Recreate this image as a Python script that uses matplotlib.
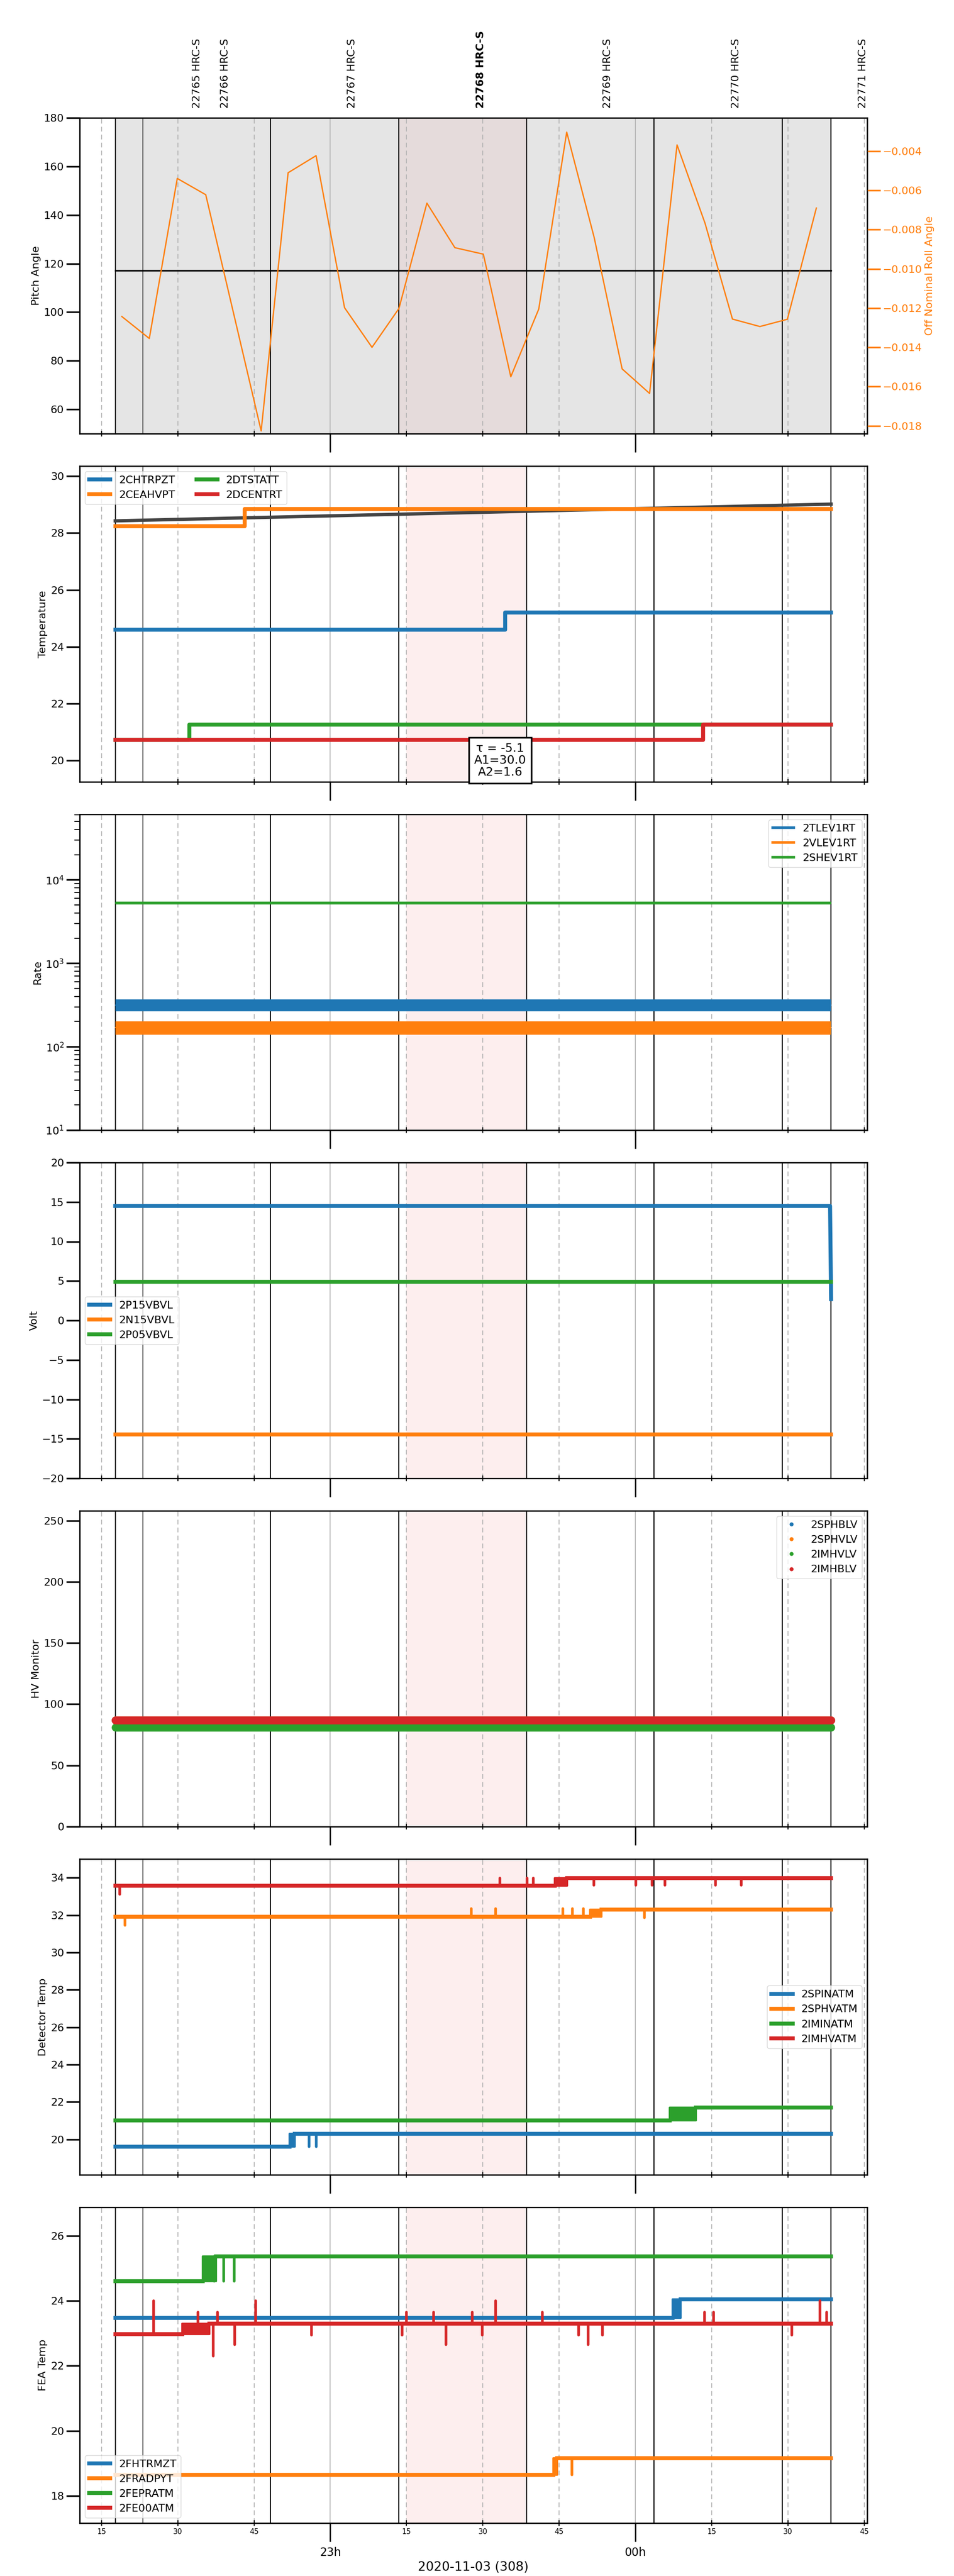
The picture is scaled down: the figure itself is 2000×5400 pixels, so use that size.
import numpy as np
import matplotlib
matplotlib.use("Agg")
import matplotlib.pyplot as plt
import matplotlib.dates as mdates
from datetime import datetime, timedelta

plt.rcParams['font.family'] = ['DejaVu Sans']
plt.rcParams['font.size'] = 16

BASE = datetime(2020, 11, 3, 22, 0)
def T(m):
    return mdates.date2num(np.array([BASE + timedelta(minutes=float(x)) for x in np.atleast_1d(m)]))

# ---------------- data (minutes after 22:00) ----------------
x_range = (10.7, 165.6)
t_start, t_end = 17.7, 158.5
obs_lines = [17.7, 48.2, 73.5, 98.6, 123.7, 148.9, 158.5]
obs_thin = [23.1]
grey_spans = [(17.7, 73.5), (98.6, 158.5)]
pink_span_top = (73.5, 98.6)
pink_span = (75.0, 98.6)
obs_label_t = [33.8, 39.3, 64.3, 89.6, 114.6, 139.8, 164.8]
obs_labels = ["22765 HRC-S", "22766 HRC-S", "22767 HRC-S", "22768 HRC-S",
              "22769 HRC-S", "22770 HRC-S", "22771 HRC-S"]
obs_bold = "22768 HRC-S"

pitch_t = [17.7, 158.5]
pitch_v = [117.2, 117.2]
roll_t = [19.0, 24.4, 29.9, 35.5, 46.4, 51.7, 57.2, 62.8, 68.2, 73.5, 79.0, 84.5, 90.1,
          95.5, 101.0, 106.5, 111.9, 117.4, 122.8, 128.2, 133.7, 139.1, 144.5, 149.9, 155.6]
roll_v = [-0.01243, -0.01355, -0.00539, -0.00622, -0.01826, -0.00510, -0.00423, -0.01198,
          -0.01400, -0.01202, -0.00665, -0.00892, -0.00925, -0.01550, -0.01205, -0.00303,
          -0.00840, -0.01510, -0.01635, -0.00368, -0.00767, -0.01256, -0.01294, -0.01257,
          -0.00690]

temp_names = ["2CHTRPZT", "2CEAHVPT", "2DTSTATT", "2DCENTRT"]
temp_v0 = [24.6, 28.25, 20.72, 20.72]
temp_step = [94.4, 43.2, 32.3, 133.3]
temp_v1 = [25.2, 28.85, 21.25, 21.25]
trend_t = [17.7, 158.5]
trend_v = [28.43, 29.02]
fit_text = "τ = -5.1\nA1=30.0\nA2=1.6"

rate_names = ["2TLEV1RT", "2VLEV1RT", "2SHEV1RT"]
rate_mid = [313, 169, 5250]
rate_lo = [265, 140, 5050]
rate_hi = [370, 200, 5450]

volt_names = ["2P15VBVL", "2N15VBVL", "2P05VBVL"]
volt_v = [14.5, -14.45, 4.9]
volt_end_drop = 2.7

hv_names = ["2SPHBLV", "2SPHVLV", "2IMHVLV", "2IMHBLV"]
hv_v = [87, 87, 81, 87]

det_names = ["2SPINATM", "2SPHVATM", "2IMINATM", "2IMHVATM"]
det_v0 = [19.6, 31.9, 21.0, 33.57]
det_v1 = [20.3, 32.3, 21.7, 33.97]
det_tr0 = [52.0, 111.1, 126.8, 104.1]
det_tr1 = [53.0, 113.3, 131.9, 106.6]
det_spk_t = [[55.8, 57.2], [19.6, 87.7, 92.5, 105.7, 107.6, 109.8, 121.8],
             [], [18.6, 93.4, 98.7, 99.9, 104.2, 111.8, 120.1, 123.3, 125.8, 135.8, 140.8]]
det_spk_v = [[19.6, 19.6], [31.45, 32.35, 32.35, 32.35, 32.35, 32.35, 31.85],
             [], [33.1, 33.97, 33.97, 33.97, 33.97, 33.6, 33.6, 33.6, 33.6, 33.6, 33.6]]

fea_names = ["2FHTRMZT", "2FRADPYT", "2FEPRATM", "2FE00ATM"]
fea_v0 = [23.47, 18.65, 24.6, 22.97]
fea_v1 = [24.05, 19.15, 25.37, 23.3]
fea_tr0 = [127.3, 103.9, 34.9, 30.9]
fea_tr1 = [128.9, 104.6, 37.5, 36.2]
fea_spk_t = [[], [107.5], [37.2, 39.0, 41.1],
             [25.2, 45.3, 92.5, 156.3, 34.0, 37.8, 75.0, 80.3, 87.9, 101.7, 133.6, 135.4, 157.6,
              37.0, 41.2, 56.3, 74.1, 82.8, 89.9, 108.8, 110.7, 113.5, 150.8]]
fea_spk_v = [[], [18.65], [24.6, 24.6, 24.6],
             [24.0, 24.0, 24.0, 24.0, 23.65, 23.65, 23.65, 23.65, 23.65, 23.65, 23.65, 23.65, 23.65,
              22.3, 22.65, 22.95, 22.95, 22.65, 22.95, 22.95, 22.65, 22.95, 22.95]]

C = ['#1f77b4', '#ff7f0e', '#2ca02c', '#d62728']
LW = 6

# ---------------- layout ----------------
fig = plt.figure(figsize=(20, 54), dpi=100)
W, H = 2000, 5400
tops = [247 + 730 * i for i in range(7)]
ph = 662
axes = []
for tp in tops:
    axes.append(fig.add_axes([167 / W, 1 - (tp + ph) / H, 1651 / W, ph / H]))

def decorate(ax, top=False, last=False):
    ax.set_xlim(T(x_range[0])[0], T(x_range[1])[0])
    if top:
        for a, b in grey_spans:
            ax.axvspan(T(a)[0], T(b)[0], color='#e5e5e5', zorder=0)
        ax.axvspan(T(pink_span_top[0])[0], T(pink_span_top[1])[0], color='#e5dbdb', zorder=0.5)
    else:
        ax.axvspan(T(pink_span[0])[0], T(pink_span[1])[0], color='#fdeeee', zorder=0)
    for v in obs_lines:
        ax.axvline(T(v)[0], color='black', lw=1.6, zorder=1)
    for v in obs_thin:
        ax.axvline(T(v)[0], color='black', lw=1.0, zorder=1)
    ax.xaxis.set_major_locator(mdates.HourLocator())
    ax.xaxis.set_minor_locator(mdates.MinuteLocator(byminute=[15, 30, 45]))
    ax.grid(True, which='major', axis='x', color='#b0b0b0', lw=1.2, zorder=0.8)
    ax.grid(True, which='minor', axis='x', color='#b0b0b0', lw=1.2, ls=(0, (6, 4)), zorder=0.8)
    ax.tick_params(axis='x', which='major', length=28, width=2, direction='out')
    ax.tick_params(axis='x', which='minor', length=8, width=1.5, direction='inout')
    ax.tick_params(axis='y', which='major', length=20, width=2.5, direction='out', labelsize=16)
    ax.tick_params(axis='y', which='minor', length=8, width=1.5, direction='out')
    for s in ax.spines.values():
        s.set_linewidth(2)
    if last:
        ax.xaxis.set_major_formatter(mdates.DateFormatter('%Hh'))
        ax.xaxis.set_minor_formatter(mdates.DateFormatter('%M'))
        ax.tick_params(axis='x', which='major', labelsize=17, pad=8)
        ax.tick_params(axis='x', which='minor', labelsize=11, pad=4)
        ax.set_xlabel("2020-11-03 (308)", fontsize=19)
    else:
        ax.tick_params(axis='x', which='both', labelbottom=False)

# panel 1
ax = axes[0]
decorate(ax, top=True)
ax.plot(T(pitch_t), pitch_v, color='black', lw=2.5, zorder=3)
ax.set_ylim(50, 180)
ax.set_yticks(np.arange(60, 181, 20))
ax.set_ylabel("Pitch Angle", fontsize=16)
ax2 = ax.twinx()
ax2.plot(T(roll_t), roll_v, color='#ff7f0e', lw=2)
ax2.set_ylim(-0.0184, -0.0023)
ax2.set_yticks(np.arange(-0.018, -0.0039, 0.002))
ax2.tick_params(axis='y', colors='#ff7f0e', length=20, width=2.5, labelsize=16)
ax2.set_ylabel("Off Nominal Roll Angle", color='#ff7f0e', fontsize=16)
for tx, lab in zip(obs_label_t, obs_labels):
    ax.text(T(tx)[0], 1.03, lab, transform=ax.get_xaxis_transform(), rotation=90,
            ha='center', va='bottom', fontsize=16,
            fontweight='bold' if lab == obs_bold else 'normal')

# panel 2
ax = axes[1]
decorate(ax)
ax.plot(T(trend_t), trend_v, color='#444444', lw=5, zorder=2)
for i, n in enumerate(temp_names):
    tt = [t_start, temp_step[i], temp_step[i], t_end]
    vv = [temp_v0[i], temp_v0[i], temp_v1[i], temp_v1[i]]
    ax.plot(T(tt), vv, color=C[i], lw=LW, label=n, zorder=3 + (i == 3))
ax.set_ylim(19.24, 30.36)
ax.set_yticks(np.arange(20, 31, 2))
ax.set_ylabel("Temperature", fontsize=16)
ax.legend(loc='upper left', ncol=2, fontsize=16)
ax.text(T(93.4)[0], 20.62, fit_text, ha='center', va='top', fontsize=18, zorder=10,
        linespacing=1.05, clip_on=False,
        bbox=dict(facecolor='white', edgecolor='black', lw=2.5, pad=8))

# panel 3
ax = axes[2]
decorate(ax)
for i, n in enumerate(rate_names):
    ax.fill_between(T([t_start, t_end]), [rate_lo[i]] * 2, [rate_hi[i]] * 2, color=C[i], lw=0, zorder=2)
    ax.plot(T([t_start, t_end]), [rate_mid[i]] * 2, color=C[i], lw=1.5, label=n, zorder=3)
ax.set_yscale('log')
ax.set_ylim(10, 6.1e4)
ax.set_ylabel("Rate", fontsize=16)
leg = ax.legend(loc='upper right', fontsize=16)
for l in leg.get_lines():
    l.set_linewidth(4)

# panel 4
ax = axes[3]
decorate(ax)
for i, n in enumerate(volt_names):
    if i == 0:
        ax.plot(T([t_start, t_end - 0.2, t_end]), [volt_v[i], volt_v[i], volt_end_drop], color=C[i], lw=LW, label=n, zorder=3)
    else:
        ax.plot(T([t_start, t_end]), [volt_v[i]] * 2, color=C[i], lw=LW, label=n, zorder=3)
ax.set_ylim(-20, 20)
ax.set_yticks(np.arange(-20, 21, 5))
ax.set_ylabel("Volt", fontsize=16)
ax.legend(loc='center left', fontsize=16)

# panel 5
ax = axes[4]
decorate(ax)
for i, n in enumerate(hv_names):
    ax.plot(T([t_start, t_end]), [hv_v[i]] * 2, color=C[i], lw=12, solid_capstyle='round', zorder=3)
    ax.plot([], [], 'o', color=C[i], ms=5, label=n)
ax.set_ylim(0, 258)
ax.set_yticks(np.arange(0, 251, 50))
ax.set_ylabel("HV Monitor", fontsize=16)
ax.legend(loc='upper right', fontsize=16)

def step_panel(ax, names, v0, v1, tr0, tr1, spk_t, spk_v):
    for i, n in enumerate(names):
        ax.plot(T([t_start, tr0[i]]), [v0[i]] * 2, color=C[i], lw=LW, zorder=3, label=n)
        ax.plot(T([tr1[i], t_end]), [v1[i]] * 2, color=C[i], lw=LW, zorder=3)
        ax.fill_between(T([tr0[i], tr1[i]]), [v0[i]] * 2, [v1[i]] * 2, color=C[i], lw=3, edgecolor=C[i], zorder=3)
        for st, sv in zip(spk_t[i], spk_v[i]):
            base = v0[i] if st < tr0[i] else v1[i]
            ax.plot(T([st, st]), [base, sv], color=C[i], lw=4, solid_capstyle='round', zorder=3)

# panel 6
ax = axes[5]
decorate(ax)
step_panel(ax, det_names, det_v0, det_v1, det_tr0, det_tr1, det_spk_t, det_spk_v)
ax.set_ylim(18.1, 35.0)
ax.set_yticks(np.arange(20, 35, 2))
ax.set_ylabel("Detector Temp", fontsize=16)
ax.legend(loc='center right', fontsize=16)

# panel 7
ax = axes[6]
decorate(ax, last=True)
step_panel(ax, fea_names, fea_v0, fea_v1, fea_tr0, fea_tr1, fea_spk_t, fea_spk_v)
ax.set_ylim(17.16, 26.88)
ax.set_yticks(np.arange(18, 27, 2))
ax.set_ylabel("FEA Temp", fontsize=16)
ax.legend(loc='lower left', fontsize=16)

fig.savefig("out.png", dpi=100)
